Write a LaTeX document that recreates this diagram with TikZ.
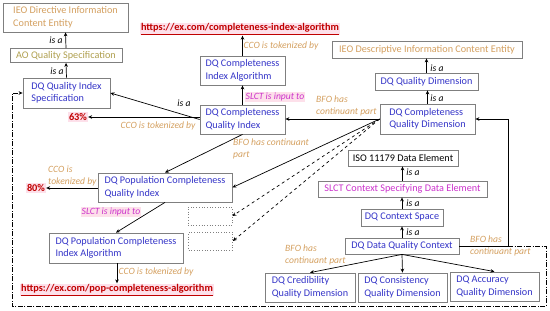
\documentclass[tikz,border=0pt]{standalone}
\usepackage{fontspec}
\setmainfont{Carlito}
\usepackage{xcolor}
\usetikzlibrary{arrows.meta}
\definecolor{bluex}{HTML}{3535C8}
\definecolor{tanx}{HTML}{D4A060}
\definecolor{olivex}{HTML}{B0A050}
\definecolor{magx}{HTML}{CC33CC}
\definecolor{redx}{HTML}{C00000}
\definecolor{pinkbg}{HTML}{FDE0EA}
\definecolor{boxgray}{HTML}{7F7F7F}
\tikzset{
  ar/.style={-{Stealth[length=4pt,width=3.6pt]},line width=0.7pt,black},
  dar/.style={ar,dashed},
  box/.style={draw=boxgray,line width=0.8pt,fill=white,align=left,inner sep=2pt,font=\fontsize{10.2}{12.5}\selectfont,text=bluex},
  dotbox/.style={draw=boxgray,dotted,line width=0.7pt,minimum width=44,minimum height=18},
  lbl/.style={font=\fontsize{9.6}{11.5}\selectfont\itshape,text=tanx,align=left,inner sep=1pt},
  isa/.style={font=\fontsize{9.6}{11.5}\selectfont\itshape,inner sep=1pt},
  slctlbl/.style={lbl,text=magx,fill=pinkbg},
  urlx/.style={font=\fontsize{10.3}{12}\selectfont\bfseries,text=redx,fill=pinkbg,inner sep=1pt},
  ddline/.style={line width=0.8pt,dash pattern=on 5pt off 1.5pt on 1pt off 1.5pt}
}
\begin{document}
\begin{tikzpicture}[x=1pt,y=-1pt]
\useasboundingbox (0,0) rectangle (550,311);
% left column
\node[box,text=tanx,minimum width=125,minimum height=29] (ieoDir) at (65.5,17.5) {IEO Directive Information\\Content Entity};
\node[box,text=olivex,minimum width=112,minimum height=14] (aoSpec) at (66,55.5) {AO Quality Specification};
\node[box,minimum width=87,minimum height=30] (qiSpec) at (66.5,93) {DQ Quality Index\\Specification};
\node[urlx] (pct63) at (78,117) {63\%};
% completeness index
\node[urlx] (url1) at (240,29) {\underline{https://ex.com/completeness-index-algorithm}};
\node[box,minimum width=85,minimum height=29] (ciAlg) at (242.5,70.5) {DQ Completeness\\Index Algorithm};
\node[box,minimum width=85,minimum height=29] (cqIndex) at (242.5,119.5) {DQ Completeness\\Quality Index};
% population index
\node[box,minimum width=134,minimum height=29] (pcqIndex) at (165,187.5) {DQ Population Completeness\\Quality Index};
\node[urlx] (pct80) at (36,188) {80\%};
\node[box,minimum width=134,minimum height=30] (pciAlg) at (116,248) {DQ Population Completeness\\Index Algorithm};
\node[urlx] (url2) at (117,290) {\underline{https://ex.com/pop-completeness-algorithm}};
\node[dotbox] (dotA) at (210,216) {};
\node[dotbox] (dotB) at (210.5,241) {};
% dimensions
\node[box,text=tanx,minimum width=190,minimum height=17] (ieoDesc) at (427,49.5) {IEO Descriptive Information Content Entity};
\node[box,minimum width=103,minimum height=17] (qDim) at (426.5,81.5) {DQ Quality Dimension};
\node[box,minimum width=95,minimum height=30] (cqDim) at (427.5,119) {DQ Completeness\\Quality Dimension};
% context
\node[box,text=black,minimum width=110,minimum height=16] (iso) at (403,158) {ISO 11179 Data Element};
\node[box,text=magx,minimum width=169,minimum height=16] (slct) at (402.5,189) {SLCT Context Specifying Data Element};
\node[box,minimum width=82,minimum height=17] (ctxSpace) at (402,217.5) {DQ Context Space};
\node[box,minimum width=114,minimum height=16] (dqCtx) at (402,246) {DQ Data Quality Context};
\node[box,minimum width=90,minimum height=29] (cred) at (310,287.5) {DQ Credibility\\Quality Dimension};
\node[box,minimum width=89,minimum height=29] (cons) at (402.5,287.5) {DQ Consistency\\Quality Dimension};
\node[box,minimum width=89,minimum height=29] (acc) at (494.5,286.5) {DQ Accuracy\\Quality Dimension};
% connectors
\draw[ar] (aoSpec.north) -- (ieoDir.south);
\draw[ar] (qiSpec.north) -- (aoSpec.south);
\draw[ar] (ciAlg.north) -- (ciAlg.north |- url1.south);
\draw[ar] (cqIndex.north) -- (ciAlg.south);
\draw[ar] (cqIndex.west) -- (qiSpec.east);
\draw[ar] (pct63.east -| cqIndex.west) -- (pct63.east);
\draw[ar] (cqDim.west) -- (cqDim.west -| cqIndex.east);
\draw[ar] (cqIndex.south) -- (pcqIndex.north);
\draw[ar] (cqDim.west) -- (pcqIndex.east);
\draw[dar] (cqDim.west) -- (dotA.east);
\draw[dar] (cqDim.west) -- (dotB.east);
\draw[ar] (pcqIndex.west |- pct80.east) -- (pct80.east);
\draw[ar] (pcqIndex.south) -- (pciAlg.north);
\draw[ar] (pciAlg.south -| url2.north) -- (url2.north);
\draw[ar] (qDim.north) -- (ieoDesc.south -| qDim.north);
\draw[ar] (cqDim.north) -- (qDim.south -| cqDim.north);
\draw[ar] (slct.north) -- (iso.south -| slct.north);
\draw[ar] (ctxSpace.north) -- (slct.south -| ctxSpace.north);
\draw[ar] (dqCtx.north) -- (ctxSpace.south);
\draw[ar] (dqCtx.south) -- (cred.north);
\draw[ar] (dqCtx.south) -- (cons.north);
\draw[ar] (dqCtx.south) -- (acc.north);
\coordinate (turnR) at (508,246);
\coordinate (loopA) at (546,306);
\coordinate (loopB) at (12,306);
\draw[ar] (dqCtx.east) -- (turnR) |- (cqDim.east);
\draw[ddline,-{Stealth[length=4pt,width=3.6pt]}] (turnR) -| (loopA) -- (loopB) |- (qiSpec.west);
% labels
\node[isa] (isaA) at (56,40) {is a};
\node[isa] (isaB) at (57,71) {is a};
\node[lbl] (ccoA) at (281,46) {CCO is tokenized by};
\node[slctlbl] (slctA) at (275,97) {SLCT is input to};
\node[isa] (isaC) at (184,103) {is a};
\node[lbl] (ccoB) at (158,126) {CCO is tokenized by};
\node[lbl,anchor=west] (bfoA) at (232,149) {BFO has continuant\\part};
\node[lbl,anchor=west] (bfoB) at (315,106) {BFO has\\continuant part};
\node[lbl,anchor=west] (ccoC) at (47,176) {CCO is\\tokenized by};
\node[slctlbl] (slctB) at (111,212) {SLCT is input to};
\node[lbl] (ccoD) at (156,272) {CCO is tokenized by};
\node[isa] (isaD) at (437,68) {is a};
\node[isa] (isaE) at (437,98) {is a};
\node[isa] (isaF) at (413,172) {is a};
\node[isa] (isaG) at (413,203) {is a};
\node[isa] (isaH) at (413,232) {is a};
\node[lbl,anchor=west] (bfoC) at (284,255) {BFO has\\continuant part};
\node[lbl,anchor=west] (bfoD) at (469,246) {BFO has\\continuant part};
\end{tikzpicture}
\end{document}
